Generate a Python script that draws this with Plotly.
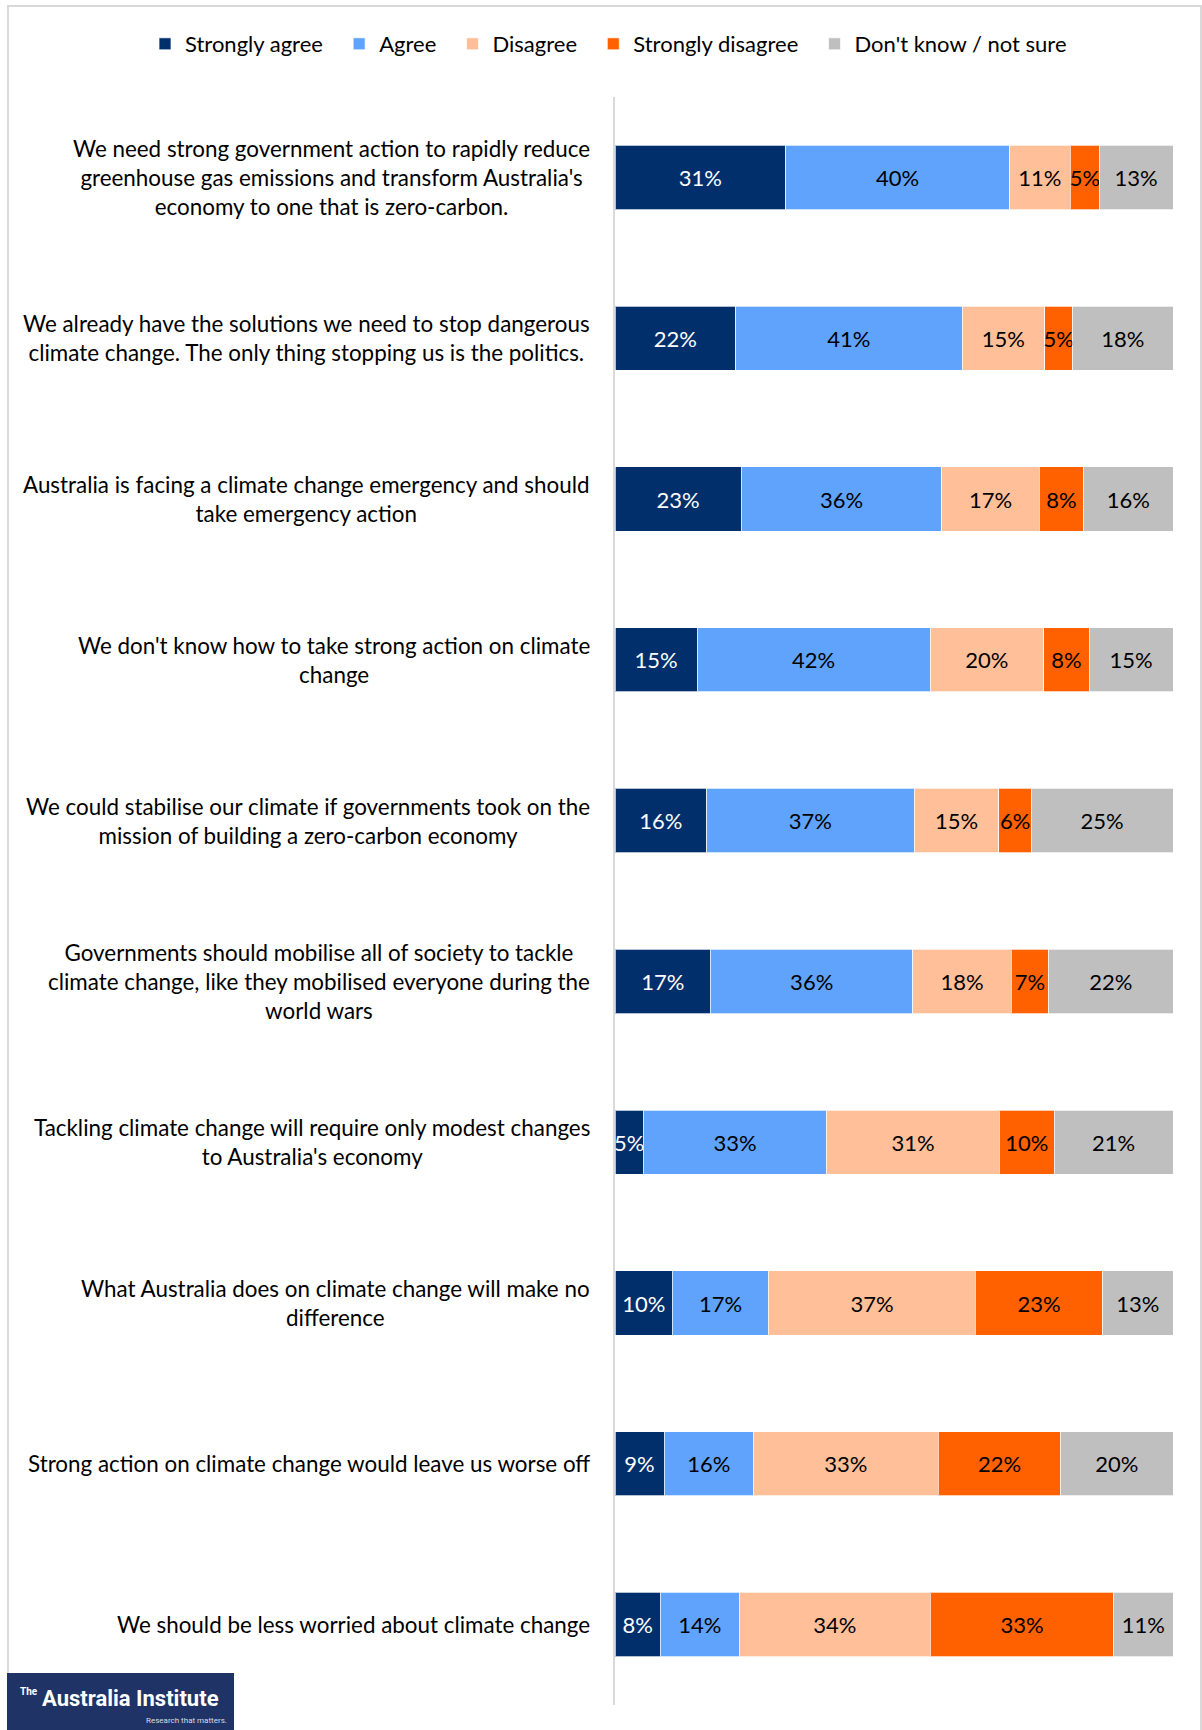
import plotly.graph_objects as go

W, H = 1202, 1730
ML, MR, MT, MB = 615, 29, 97, 25

categories = [
    "We need strong government action to rapidly reduce<br>greenhouse gas emissions and transform Australia's<br>economy to one that is zero-carbon.",
    "We already have the solutions we need to stop dangerous<br>climate change. The only thing stopping us is the politics.",
    "Australia is facing a climate change emergency and should<br>take emergency action",
    "We don't know how to take strong action on climate<br>change",
    "We could stabilise our climate if governments took on the<br>mission of building a zero-carbon economy",
    "Governments should mobilise all of society to tackle<br>climate change, like they mobilised everyone during the<br>world wars",
    "Tackling climate change will require only modest changes<br>to Australia's economy",
    "What Australia does on climate change will make no<br>difference",
    "Strong action on climate change would leave us worse off",
    "We should be less worried about climate change",
]

strongly_agree = [30.6, 21.6, 22.6, 14.7, 16.4, 17.1, 5.1, 10.3, 8.8, 8.1]
agree = [40.1, 40.6, 36.0, 41.8, 37.2, 36.3, 32.8, 17.2, 16.0, 14.2]
disagree = [10.9, 14.8, 17.4, 20.3, 15.2, 17.6, 31.0, 37.1, 33.1, 34.2]
strongly_disagree = [5.2, 5.0, 8.0, 8.2, 5.8, 6.7, 9.8, 22.8, 22.0, 32.9]
dont_know = [13.2, 18.0, 16.0, 15.0, 25.4, 22.3, 21.3, 12.6, 20.1, 10.6]

series_names = ["Strongly agree", "Agree", "Disagree", "Strongly disagree", "Don't know / not sure"]
series_values = [strongly_agree, agree, disagree, strongly_disagree, dont_know]
series_colors = ["#002F6C", "#5FA3FD", "#FFBF99", "#FF6100", "#BFBFBF"]
text_colors = ["#FFFFFF", "#000000", "#000000", "#000000", "#000000"]

FONT = "Lato, 'Open Sans', sans-serif"
FS = 22
LFS = 22.4
PAD = "\u00a0\u00a0"

fig = go.Figure()
for i, (name, vals, col, tcol) in enumerate(zip(series_names, series_values, series_colors, text_colors)):
    legend_name = name + (PAD if i < len(series_names) - 1 else "")
    fig.add_trace(go.Bar(
        y=categories, x=vals, name=legend_name, orientation="h",
        marker=dict(color=col, line=dict(color="rgba(255,255,255,0.7)", width=1)),
        texttemplate="%{x:.0f}%", textposition="inside", insidetextanchor="middle",
        textangle=0,
        textfont=dict(family=FONT, size=FS, color=tcol),
        constraintext="none", hoverinfo="skip",
    ))

pw = W - ML - MR
ph = H - MT - MB
def px_x(p):
    return (p - ML) / pw
def px_y(p):
    return (H - MB - p) / ph

annotations = []
for c in categories:
    annotations.append(dict(
        xref="paper", yref="y", x=0, y=c, xanchor="right", yanchor="middle",
        xshift=-23, text=c, align="center", showarrow=False,
        font=dict(family=FONT, size=LFS, color="#000000"),
    ))

# logo
LOGO_FONT = "'Liberation Sans Narrow', Roboto, sans-serif"
annotations.append(dict(xref="paper", yref="paper", x=px_x(40), y=px_y(1698), xanchor="left", yanchor="middle",
                        text="<b>Australia Institute</b>", showarrow=False,
                        font=dict(family=LOGO_FONT, size=22, color="#FFFFFF")))
annotations.append(dict(xref="paper", yref="paper", x=px_x(40), y=px_y(1691), xanchor="right", yanchor="middle",
                        text="<b>The</b>", showarrow=False,
                        font=dict(family=LOGO_FONT, size=10, color="#FFFFFF")))
annotations.append(dict(xref="paper", yref="paper", x=px_x(229), y=px_y(1720), xanchor="right", yanchor="middle",
                        text="Research that matters.", showarrow=False,
                        font=dict(family=LOGO_FONT, size=8, color="#D8DDE8")))

shapes = [
    dict(type="rect", xref="paper", yref="paper", x0=px_x(8), x1=px_x(1201), y0=px_y(1760), y1=px_y(6),
         line=dict(color="#D9D9D9", width=2), fillcolor="rgba(0,0,0,0)", layer="below"),
    dict(type="rect", xref="paper", yref="paper", x0=px_x(7), x1=px_x(234), y0=px_y(1731), y1=px_y(1673),
         line=dict(width=0), fillcolor="#1F3366", layer="above"),
]

fig.update_layout(
    width=W, height=H,
    margin=dict(l=ML, r=MR, t=MT, b=MB, pad=0, autoexpand=False),
    barmode="stack", bargap=0.6,
    paper_bgcolor="white", plot_bgcolor="white",
    font=dict(family=FONT, size=FS, color="#000000"),
    uniformtext=dict(mode="show", minsize=FS),
    showlegend=True,
    legend=dict(orientation="h", x=px_x(145), xanchor="left", y=px_y(44), yanchor="middle",
                font=dict(family=FONT, size=FS, color="#000000"), traceorder="normal",
                itemwidth=30, bgcolor="rgba(0,0,0,0)"),
    xaxis=dict(range=[0, 100], visible=False, fixedrange=True),
    yaxis=dict(autorange="reversed", showticklabels=False, showline=True, linecolor="#D9D9D9",
               linewidth=2, ticks="", showgrid=False, zeroline=False),
    annotations=annotations, shapes=shapes,
)

fig.write_html("out.html", config={"displayModeBar": False},
               post_script="document.body.style.margin='0';document.body.style.overflow='hidden';")
